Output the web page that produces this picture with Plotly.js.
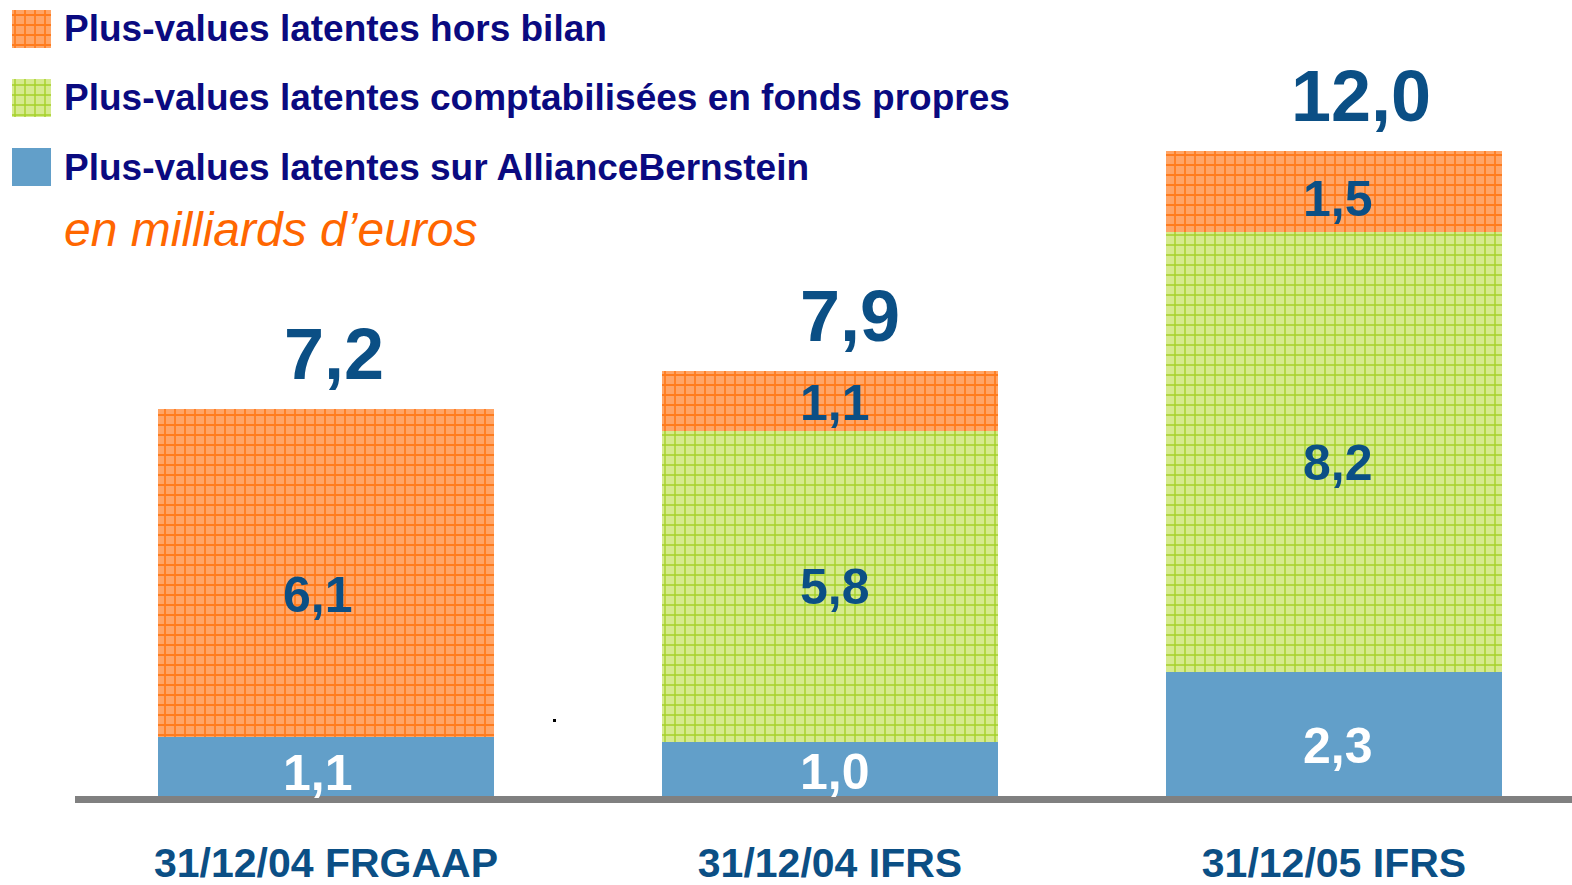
<!DOCTYPE html>
<html>
<head>
<meta charset="utf-8">
<script src="https://cdn.plot.ly/plotly-3.0.1.min.js"></script>
<style>html,body{margin:0;padding:0;background:#fff;}#chart{width:1572px;height:885px;}</style>
</head>
<body>
<div id="chart"></div>
<script>
// ---- data ----
const categories = ['31/12/04 FRGAAP', '31/12/04 IFRS', '31/12/05 IFRS'];
const seriesNames = [
  'Plus-values latentes sur AllianceBernstein',
  'Plus-values latentes comptabilisées en fonds propres',
  'Plus-values latentes hors bilan'
];
const allianceBernstein = [1.1, 1.0, 2.3];
const fondsPropres = [null, 5.8, 8.2];
const horsBilan = [6.1, 1.1, 1.5];
const totals = [7.2, 7.9, 12.0];
const unitNote = 'en milliards d\u2019euros';

// ---- styles ----
const W = 1572, H = 885;
const FONT = 'Liberation Sans, Arial, Helvetica, sans-serif';
const valueBlue = '#0B4F85';
const legendNavy = '#0A0A80';
const styles = [
  {color: '#629FC9', pattern: null, text: '#FFFFFF'},
  {color: '#D6EA8E', pattern: {shape: '+', fgcolor: '#A5D129', bgcolor: '#D6EA8E', size: 10, solidity: 0.26, fillmode: 'replace'}, text: valueBlue},
  {color: '#FFA567', pattern: {shape: '+', fgcolor: '#FF7C1E', bgcolor: '#FFA567', size: 10, solidity: 0.32, fillmode: 'replace'}, text: valueBlue}
];
const seriesValues = [allianceBernstein, fondsPropres, horsBilan];
const totalXShift = [8, 20, 27];
const segXShift = [-8, 5, 4];
// label vertical nudges [bar][series] in px (positive = up)
const segYShift = [[-7, 0, -22], [-3, -1, -2], [-12, -11, -8]];

const xIdx = categories.map((c, i) => i);
const fmt = v => v.toFixed(1).replace('.', ',');

const traces = [];
seriesValues.forEach((vals, s) => {
  const m = {color: styles[s].color, line: {width: 0}};
  if (styles[s].pattern) m.pattern = styles[s].pattern;
  traces.push({
    type: 'bar', x: xIdx, y: vals, width: 0.667, name: seriesNames[s],
    marker: m, showlegend: false, hoverinfo: 'skip', xaxis: 'x', yaxis: 'y'
  });
});

// legend swatches (second subplot in pixel-like units)
const legendRows = [{s: 2, y: 29}, {s: 1, y: 97.5}, {s: 0, y: 167}];
legendRows.forEach(r => {
  const m = {color: styles[r.s].color, line: {width: 0}};
  if (styles[r.s].pattern) m.pattern = styles[r.s].pattern;
  traces.push({
    type: 'bar', orientation: 'h', x: [39], y: [r.y], width: 38,
    marker: m, showlegend: false, hoverinfo: 'skip', xaxis: 'x2', yaxis: 'y2'
  });
});

const annotations = [];
// segment labels
xIdx.forEach(i => {
  let base = 0;
  seriesValues.forEach((vals, s) => {
    const v = vals[i];
    if (v == null) return;
    annotations.push({
      x: i, y: base + v / 2, xref: 'x', yref: 'y', text: fmt(v), showarrow: false,
      xshift: segXShift[i], yshift: segYShift[i][s],
      font: {family: FONT, size: 50, color: styles[s].text, weight: 700}
    });
    base += v;
  });
  annotations.push({
    x: i, y: totals[i], xref: 'x', yref: 'y', text: fmt(totals[i]), showarrow: false,
    xshift: totalXShift[i], yshift: 55, yanchor: 'middle',
    font: {family: FONT, size: 72, color: valueBlue, weight: 700}
  });
});
// legend texts
legendRows.forEach(r => {
  annotations.push({
    xref: 'paper', yref: 'paper', x: 62 / W, y: 1 - r.y / H, xanchor: 'left', yanchor: 'middle',
    text: seriesNames[r.s], showarrow: false,
    font: {family: FONT, size: 37, color: legendNavy, weight: 700}
  });
});
annotations.push({
  xref: 'paper', yref: 'paper', x: 62 / W, y: 1 - 229 / H, xanchor: 'left', yanchor: 'middle',
  text: unitNote, showarrow: false,
  font: {family: FONT, size: 48, color: '#FF6600', style: 'italic'}
});

const pxPerUnit = 53.75;
const baseY = 796;
const layout = {
  width: W, height: H,
  margin: {l: 0, r: 0, t: 0, b: 0, pad: 0},
  paper_bgcolor: '#FFFFFF', plot_bgcolor: 'rgba(0,0,0,0)',
  barmode: 'stack', bargap: 0,
  separators: ', ',
  xaxis: {
    domain: [0, 1], range: [-326 / 504, (W - 326) / 504],
    tickvals: xIdx, ticktext: categories, ticks: '', showgrid: false, zeroline: false, showline: false,
    tickfont: {family: FONT, size: 41, color: valueBlue, weight: 700},
    ticklabelstandoff: 39, fixedrange: true
  },
  yaxis: {
    domain: [(H - baseY) / H, 1], range: [0, baseY / pxPerUnit],
    visible: false, showgrid: false, zeroline: false, fixedrange: true
  },
  xaxis2: {domain: [0, 1], range: [-12, W - 12], visible: false, anchor: 'y2', fixedrange: true},
  yaxis2: {domain: [0, 1], range: [H, 0], visible: false, anchor: 'x2', fixedrange: true},
  shapes: [
    {type: 'rect', xref: 'paper', yref: 'paper', x0: 75 / W, x1: 1, y0: 1 - 803 / H, y1: 1 - 796 / H,
     fillcolor: '#808080', line: {width: 0}, layer: 'above'},
    {type: 'rect', xref: 'paper', yref: 'paper', x0: 553 / W, x1: 556 / W, y0: 1 - 722 / H, y1: 1 - 719 / H,
     fillcolor: '#000000', line: {width: 0}}
  ],
  annotations: annotations
};

Plotly.newPlot('chart', traces, layout, {staticPlot: true, displayModeBar: false});
</script>
</body>
</html>
